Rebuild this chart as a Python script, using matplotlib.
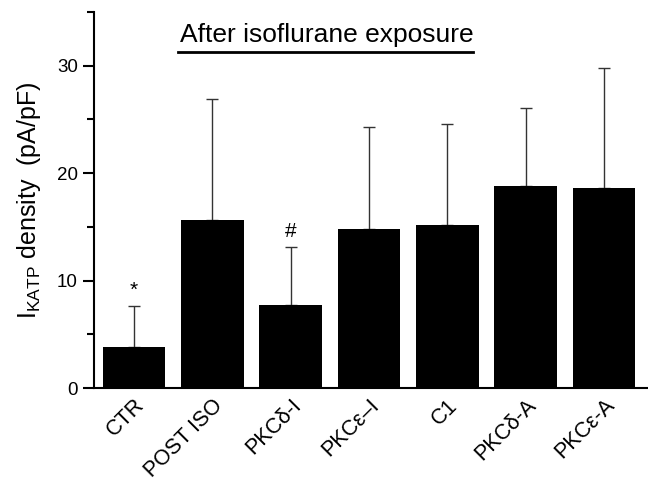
import matplotlib
matplotlib.use("Agg")
import matplotlib.pyplot as plt
from matplotlib.ticker import MultipleLocator

plt.rcParams['font.family'] = ['Liberation Sans', 'DejaVu Sans']
plt.rcParams['mathtext.fontset'] = 'custom'
plt.rcParams['mathtext.rm'] = 'Liberation Sans'
plt.rcParams['mathtext.it'] = 'Liberation Sans:italic'
plt.rcParams['mathtext.bf'] = 'Liberation Sans:bold'

categories = ['CTR', 'POST ISO', 'PKC\u03b4-I', 'PKC\u03b5\u2013I', 'C1', 'PKC\u03b4-A', 'PKC\u03b5-A']
means = [3.8, 15.6, 7.7, 14.8, 15.2, 18.85, 18.65]
sd_upper = [3.8, 11.3, 5.4, 9.5, 9.4, 7.2, 11.15]
markers = {0: '*', 2: '#'}

fig = plt.figure(figsize=(6.48, 4.84), dpi=100)
ax = fig.add_axes([0.145, 0.1983, 0.855, 0.7768])

x = list(range(len(categories)))
ax.bar(x, means, width=0.80, color='black', zorder=2)
ax.errorbar(x, means, yerr=[[0]*len(means), sd_upper], fmt='none',
            ecolor='#333333', elinewidth=1.0, capsize=4.5, capthick=1.0, zorder=1)

for i, m in markers.items():
    top = means[i] + sd_upper[i]
    ax.text(i, top + 0.6, m, ha='center', va='bottom', fontsize=15)

ax.set_xlim(-0.51, 6.56)
ax.set_ylim(0, 35)
ax.yaxis.set_major_locator(MultipleLocator(10))
ax.yaxis.set_minor_locator(MultipleLocator(5))
ax.tick_params(axis='y', which='major', length=8, width=1.5, labelsize=13.5, direction='out')
ax.tick_params(axis='y', which='minor', length=5, width=1.5, direction='out')
ax.tick_params(axis='x', length=0, labelsize=15.5, pad=5)
ax.set_xticks(x)
ax.set_xticklabels(categories, rotation=45, ha='right', rotation_mode='anchor')

for s in ['top', 'right']:
    ax.spines[s].set_visible(False)
ax.spines['left'].set_linewidth(1.5)
ax.spines['bottom'].set_linewidth(1.5)

ax.set_ylabel(r'I$_{\mathrm{KATP}}$ density  (pA/pF)', fontsize=18, labelpad=10)

fig.text(0.505, 0.913, 'After isoflurane exposure', ha='center', va='baseline', fontsize=19)
fig.add_artist(plt.Line2D([0.275, 0.730], [0.893, 0.893], color='black', lw=2.0))

fig.savefig('out.png', dpi=100)
